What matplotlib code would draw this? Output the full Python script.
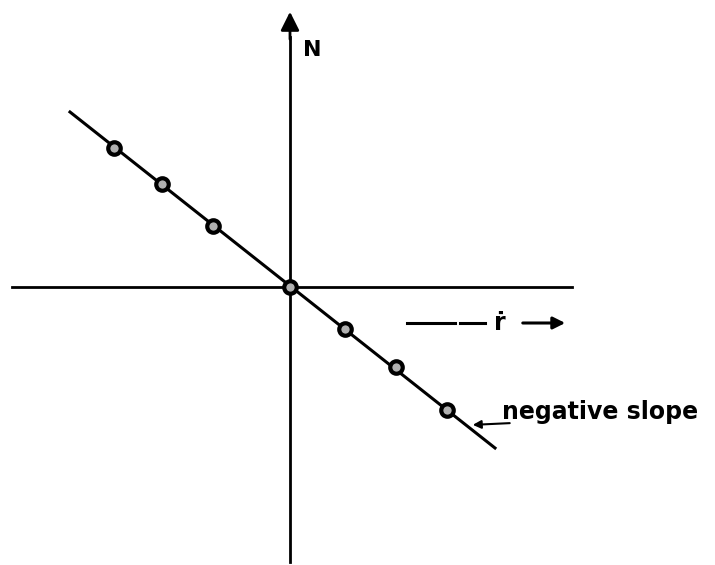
import matplotlib.pyplot as plt

# measured points (r-dot, N), origin at the axes crossing
r_dot = [-3.52, -2.56, -1.54, 0.0, 1.10, 2.12, 3.14]
N = [2.78, 2.06, 1.22, 0.0, -0.84, -1.60, -2.46]

# fitted line end points
line_x = [-4.4, 4.1]
line_y = [3.5, -3.22]

fig = plt.figure(figsize=(7.15, 5.65), dpi=100)
ax = fig.add_axes([0, 0, 1, 1])
ax.set_xlim(-5.8, 8.5)
ax.set_ylim(-5.56, 5.74)
ax.axis('off')

# axes cross
ax.plot([-5.56, 5.64], [0, 0], color='black', lw=2.0)
ax.plot([0, 0], [-5.5, 5.0], color='black', lw=2.0)
ax.annotate('', xy=(0, 5.56), xytext=(0, 4.9),
            arrowprops=dict(arrowstyle='-|>', color='black', lw=2.0,
                            mutation_scale=28))
ax.text(0.26, 4.74, 'N', fontsize=16, fontweight='bold', ha='left', va='center')

# the line and its points
ax.plot(line_x, line_y, color='black', lw=2.2)
ax.plot(r_dot, N, 'o', ms=9, mfc='#b0b0b0', mec='black', mew=3.0)

# r-dot direction label
ax.plot([2.34, 3.3], [-0.72, -0.72], color='black', lw=2.2)
ax.plot([3.4, 3.9], [-0.72, -0.72], color='black', lw=2.2)
ax.text(4.2, -0.72, '\u1e59', fontsize=17, fontweight='bold', ha='center', va='center')
ax.annotate('', xy=(5.56, -0.72), xytext=(4.6, -0.72),
            arrowprops=dict(arrowstyle='-|>', color='black', lw=2.2,
                            mutation_scale=18))

# leader to the line
ax.annotate('', xy=(3.6, -2.76), xytext=(4.45, -2.72),
            arrowprops=dict(arrowstyle='-|>', color='black', lw=1.5,
                            mutation_scale=12))
ax.text(4.24, -2.5, 'negative slope', fontsize=17, fontweight='bold',
        ha='left', va='center')

fig.savefig('out.png', dpi=100)
